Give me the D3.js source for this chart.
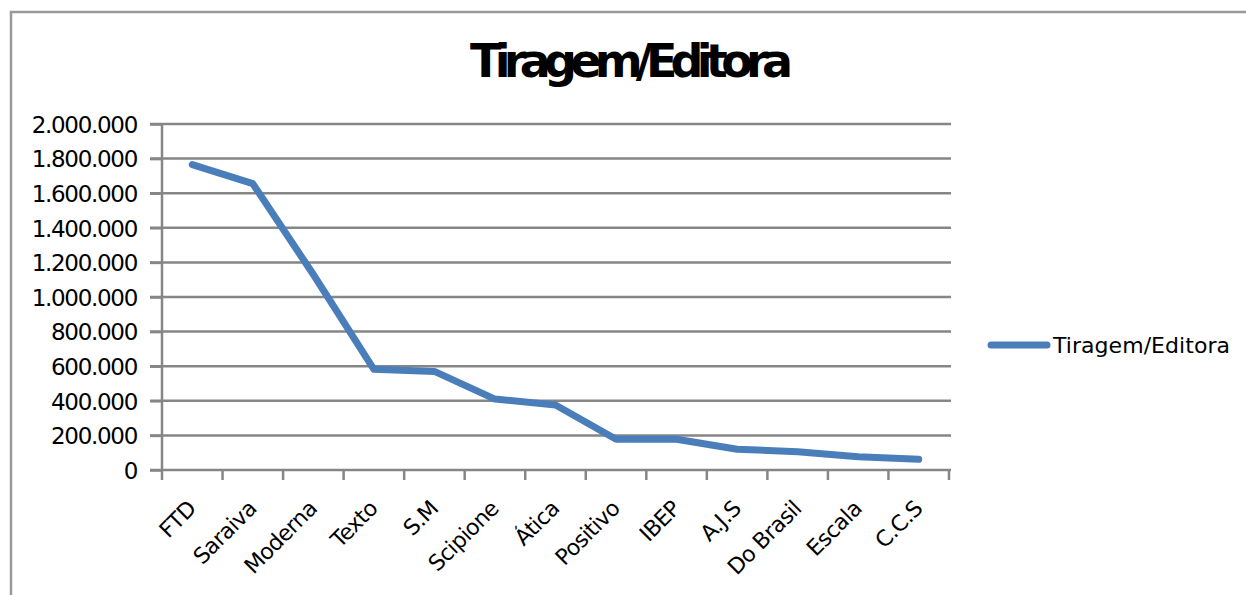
<!DOCTYPE html>
<html><head><meta charset="utf-8">
<script src="https://cdn.jsdelivr.net/npm/d3@7"></script>
<style>html,body{margin:0;padding:0;background:#fff;}svg{display:block;}</style>
</head><body>
<script>
const categories = ["FTD","Saraiva","Moderna","Texto","S.M","Scipione","Ática","Positivo","IBEP","A.J.S","Do Brasil","Escala","C.C.S"];
const values = [1765000,1655000,1130000,582000,570000,410000,376000,178000,178000,120000,106000,77000,62000];
const yTicks = [0,200000,400000,600000,800000,1000000,1200000,1400000,1600000,1800000,2000000];
const seriesName = "Tiragem/Editora";
const title = "Tiragem/Editora";

const W = 1246, H = 595;
const svg = d3.select("body").append("svg").attr("width", W).attr("height", H);

// outer chart border
svg.append("path").attr("d", `M11,${H+5}V12H${W+5}`).attr("fill","none").attr("stroke","#999").attr("stroke-width",2.5);

const x = d3.scaleBand().domain(categories).range([162, 949]);
const y = d3.scaleLinear().domain([0, 2000000]).range([470, 124]);
const fmt = v => d3.format(",")(v).replace(/,/g, ".");

// gridlines
svg.append("g").selectAll("line").data(yTicks.filter(d=>d>0)).join("line")
  .attr("x1",150).attr("x2",951).attr("y1",d=>y(d)).attr("y2",d=>y(d))
  .attr("stroke","#868686").attr("stroke-width",2.5);

// y axis
const ya = svg.append("g").attr("transform","translate(162,0)")
  .call(d3.axisLeft(y).tickValues(yTicks).tickSize(12).tickFormat(fmt));
ya.select(".domain").attr("stroke","#868686").attr("stroke-width",2.5).attr("d","M0,124V470");
ya.selectAll(".tick line").attr("stroke","#868686").attr("stroke-width",2.5);
ya.selectAll(".tick text").attr("x",-25).attr("dy","0.36em")
  .attr("font-family","DejaVu Sans").attr("font-size",23).attr("fill","#000")
  .attr("letter-spacing","-1.3");

// x axis
const xa = svg.append("g").attr("transform","translate(0,470)");
xa.append("line").attr("x1",150).attr("x2",951).attr("y1",0).attr("y2",0).attr("stroke","#868686").attr("stroke-width",2.5);
const bounds = categories.map(c=>x(c)).concat([x(categories[categories.length-1])+x.bandwidth()]);
xa.selectAll("line.tk").data(bounds).join("line").attr("class","tk")
  .attr("x1",d=>d).attr("x2",d=>d).attr("y1",0).attr("y2",10)
  .attr("stroke","#868686").attr("stroke-width",2.5);
xa.selectAll("text").data(categories).join("text")
  .attr("transform",d=>`translate(${x(d)+x.bandwidth()/2+5},${40}) rotate(-45)`)
  .attr("text-anchor","end")
  .attr("font-family","DejaVu Sans").attr("font-size",22).attr("fill","#000")
  .attr("letter-spacing","-0.6")
  .text(d=>d);

// line
const line = d3.line().x((d,i)=>x(categories[i])+x.bandwidth()/2).y(d=>y(d));
svg.append("path").datum(values).attr("d",line).attr("fill","none")
  .attr("stroke","#4a7ebb").attr("stroke-width",7).attr("stroke-linecap","round").attr("stroke-linejoin","round");

// title
svg.append("text").attr("x",470).attr("y",77)
  .attr("font-family","DejaVu Sans").attr("font-weight","bold").attr("font-size",46)
  .attr("textLength",323).attr("lengthAdjust","spacing").attr("fill","#000").text(title);

// legend
svg.append("line").attr("x1",991).attr("x2",1047).attr("y1",345).attr("y2",345)
  .attr("stroke","#4a7ebb").attr("stroke-width",7).attr("stroke-linecap","round");
svg.append("text").attr("x",1053).attr("y",353)
  .attr("font-family","DejaVu Sans").attr("font-size",22).attr("fill","#000")
  .attr("textLength",177).attr("lengthAdjust","spacing").text(seriesName);
</script>
</body></html>
